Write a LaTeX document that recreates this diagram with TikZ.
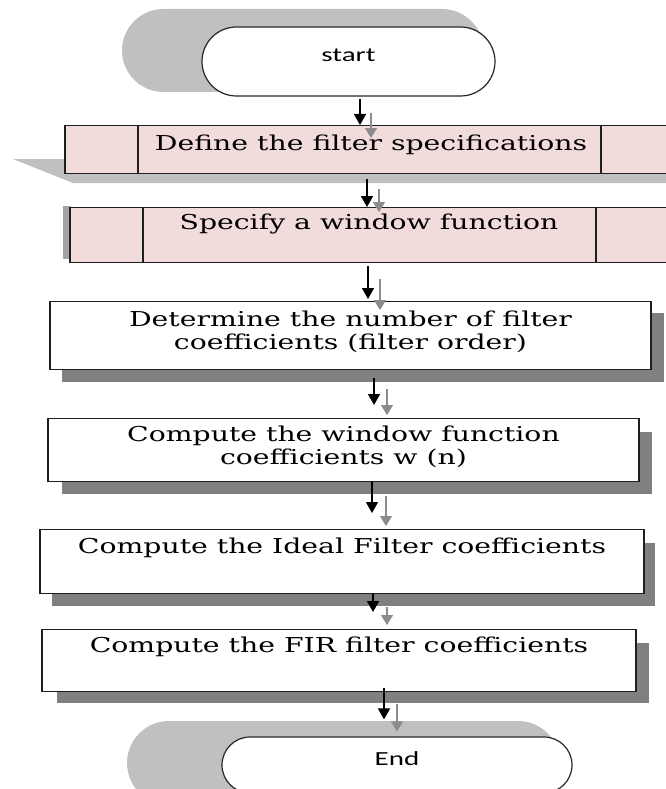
\documentclass[tikz,border=0pt]{standalone}
\usepackage{fontspec}
\setsansfont{Carlito}
\newfontfamily\dvs{DejaVu Serif}
\usepackage{graphicx}
\usetikzlibrary{arrows.meta,shapes.misc,calc}
\definecolor{pinkf}{HTML}{F2DCDB}
\definecolor{lsh}{HTML}{C0C0C0}
\definecolor{dsh}{HTML}{808080}
\definecolor{garr}{HTML}{8C8C8C}
\newcommand\bkf{\dvs\fontsize{20.5}{23.5}\selectfont}
\newcommand\sx[1]{\scalebox{1.38}[1]{#1}}
\newcommand\twol[2]{\vbox{\halign{\hfil##\hfil\cr\sx{#1}\cr\sx{#2}\cr}}}
\begin{document}
\begin{tikzpicture}[x=1pt,y=-1pt,
  term/.style={rounded rectangle, draw=black!85, line width=1.2pt, fill=white, inner sep=0pt,
    text height=5pt, text depth=5pt, font=\sffamily\fontsize{20}{24}\selectfont},
  rbox/.style={rectangle, draw=black!88, line width=1.4pt, fill=white, inner sep=0pt, anchor=north, font=\bkf},
  arrb/.style={line width=1.6pt, black, -{Triangle[length=11pt,width=12pt]}},
  arrg/.style={line width=1.3pt, garr, -{Triangle[length=10pt,width=12pt]}},
  divl/.style={line width=1.4pt, black!88}]
\useasboundingbox (0,0) rectangle (665,789);
% shadows
\fill[lsh, rounded corners=41.5pt] (122,9) rectangle (483.5,92);
\fill[lsh] (13,159) -- (690,159) -- (690,183) -- (73,183) -- cycle;
\fill[lsh!85!black] (63,206) rectangle (71,259);
\fill[dsh] (62,313) rectangle (664,382);
\fill[dsh] (62,432) rectangle (652,494);
\fill[dsh] (52,543) rectangle (655,606);
\fill[dsh] (57,643) rectangle (649,703);
\fill[lsh, rounded corners=42pt] (127,721) rectangle (560,805);
% nodes
\node[term, minimum width=293pt, minimum height=69pt] (start) at (348.5,61.5) {\scalebox{1.45}[1]{start}};
\node[rbox, fill=pinkf, minimum width=612pt, text height=24.5pt, text depth=23.5pt] (def) at (371,125) {\sx{Define the filter specifications}};
\node[rbox, fill=pinkf, minimum width=598pt, text height=22pt, text depth=33pt] (spec) at (369,207) {\sx{Specify a window function}};
\node[rbox, minimum width=601pt, text height=48pt, text depth=20pt] (det) at (350.5,301) {\twol{Determine the number of filter}{coefficients (filter order)}};
\node[rbox, minimum width=591pt, text height=46pt, text depth=17pt] (cw) at (343.5,418) {\twol{Compute the window function}{coefficients w (n)}};
\node[rbox, minimum width=604pt, text height=24pt, text depth=40pt] (ideal) at (342,529) {\sx{Compute the Ideal Filter coefficients}};
\node[rbox, minimum width=594pt, text height=23pt, text depth=39pt] (fir) at (339,629) {\sx{Compute the FIR filter coefficients}};
\node[term, minimum width=350pt, minimum height=56pt] (end) at (397,765) {\scalebox{1.45}[1]{End}};
% divider lines in the predefined-process boxes
\coordinate (d1) at (138,0); \coordinate (d2) at (601,0);
\coordinate (d3) at (143,0); \coordinate (d4) at (596,0);
\draw[divl] (def.north -| d1) -- (def.south -| d1);
\draw[divl] (def.north -| d2) -- (def.south -| d2);
\draw[divl] (spec.north -| d3) -- (spec.south -| d3);
\draw[divl] (spec.north -| d4) -- (spec.south -| d4);
% arrow columns
\coordinate (k1) at (360,0); \coordinate (g1) at (371,0);
\coordinate (k2) at (367,0); \coordinate (g2) at (379,0);
\coordinate (k3) at (368,0); \coordinate (g3) at (380,0);
\coordinate (k4) at (374,0); \coordinate (g4) at (387,0);
\coordinate (k5) at (372,0); \coordinate (g5) at (386,0);
\coordinate (k6) at (373,0); \coordinate (g6) at (387,0);
\coordinate (k7) at (384,0); \coordinate (g7) at (397,0);
% gray (shadow) arrows
\draw[arrg, shorten <=16pt, shorten >=-13pt] (start.south -| g1) -- (def.north -| g1);
\draw[arrg, shorten <=15pt, shorten >=-5pt] (def.south -| g2) -- (spec.north -| g2);
\draw[arrg, shorten <=16pt, shorten >=-9pt] (spec.south -| g3) -- (det.north -| g3);
\draw[arrg, shorten <=19pt, shorten >=3pt] (det.south -| g4) -- (cw.north -| g4);
\draw[arrg, shorten <=14pt, shorten >=3pt] (cw.south -| g5) -- (ideal.north -| g5);
\draw[arrg, shorten <=13pt, shorten >=4pt] (ideal.south -| g6) -- (fir.north -| g6);
\draw[arrg, shorten <=12pt, shorten >=5pt] (fir.south -| g7) -- (end.north -| g7);
% black arrows
\draw[arrb, shorten <=2pt] (start.south -| k1) -- (def.north -| k1);
\draw[arrb, shorten <=5pt] (def.south -| k2) -- (spec.north -| k2);
\draw[arrb, shorten <=3pt, shorten >=2pt] (spec.south -| k3) -- (det.north -| k3);
\draw[arrb, shorten <=8pt, shorten >=13pt] (det.south -| k4) -- (cw.north -| k4);
\draw[arrb, shorten >=16pt] (cw.south -| k5) -- (ideal.north -| k5);
\draw[arrb, shorten >=17pt] (ideal.south -| k6) -- (fir.north -| k6);
\draw[arrb, shorten <=-4pt, shorten >=17pt] (fir.south -| k7) -- (end.north -| k7);
\end{tikzpicture}
\end{document}
